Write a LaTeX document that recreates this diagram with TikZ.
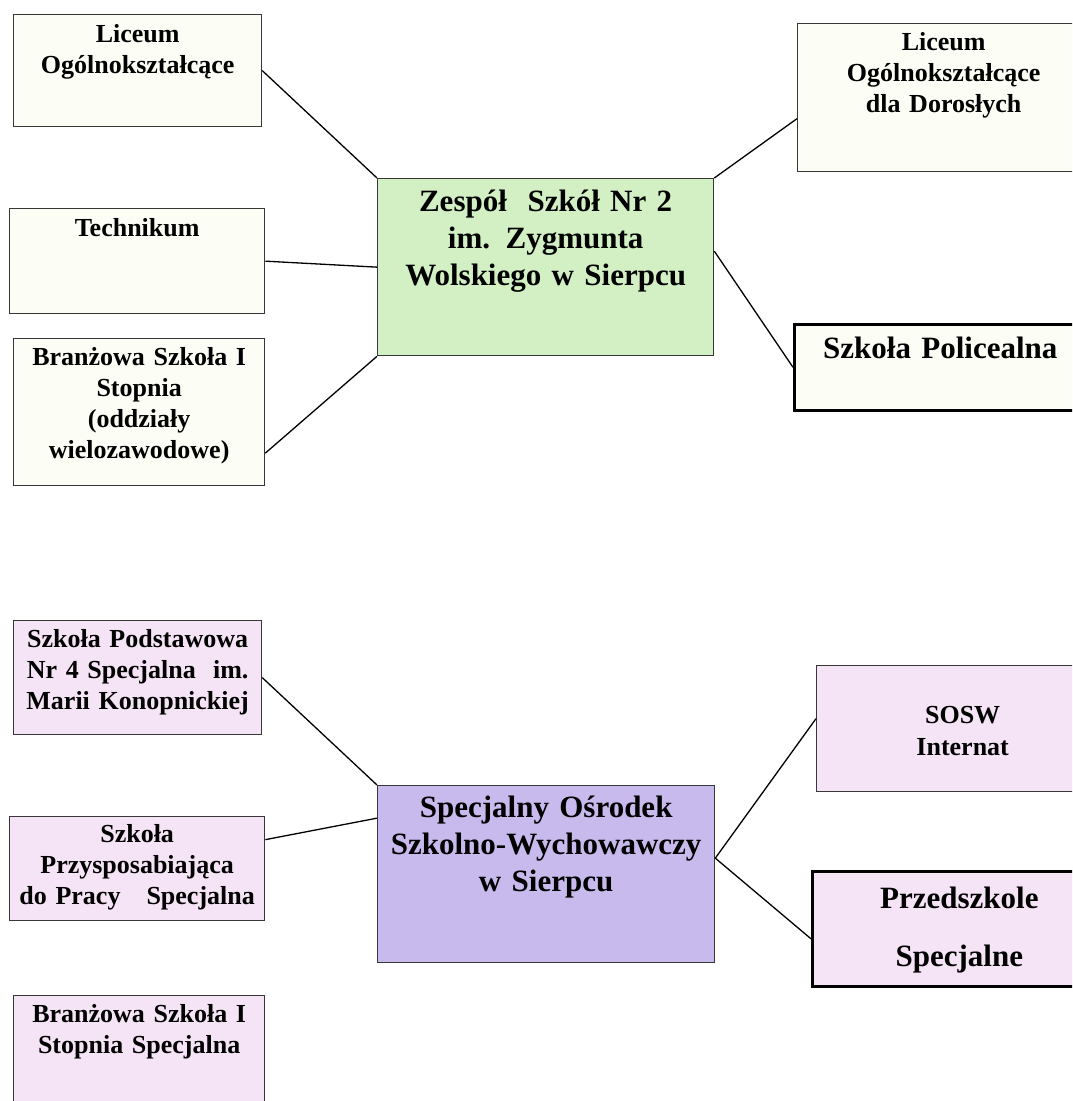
\documentclass[tikz,border=0pt]{standalone}
\usepackage{fontspec}
\setmainfont{Liberation Serif}
\usetikzlibrary{calc}
\definecolor{cream}{RGB}{252,253,244}
\definecolor{leafgreen}{RGB}{210,240,196}
\definecolor{lilac}{RGB}{200,186,236}
\definecolor{blush}{RGB}{245,228,245}
\definecolor{boxline}{RGB}{55,55,55}

\begin{document}
\begin{tikzpicture}[x=1pt,y=-1pt,
		box/.style={draw=boxline,line width=1.3pt,inner sep=0pt,anchor=north west,align=center,
			font=\bfseries\fontsize{26}{31}\selectfont},
		bigbox/.style={box,font=\bfseries\fontsize{31}{37}\selectfont},
		heavy/.style={draw=black,line width=2.6pt}]
			\useasboundingbox (0,0) rectangle (1072,1101);
			\clip (0,0) rectangle (1072,1101);
			% Zespol Szkol Nr 2
			\node[box,fill=cream,text width=248pt,text height=28pt,text depth=84pt] (LO) at (13,14) {Liceum\\Ogólnokształcące};
			\node[box,fill=cream,text width=255pt,text height=28pt,text depth=77pt] (T) at (9,208) {Technikum};
			\node[box,fill=cream,text width=251pt,text height=27pt,text depth=120pt] (BS) at (13,338) {Branżowa Szkoła I\\Stopnia\\(oddziały\\wielozawodowe)};
			\node[bigbox,fill=leafgreen,text width=336pt,text height=33pt,text depth=144pt] (ZS) at (377,178) {Zespół~~Szkół Nr 2\\im. Zygmunta\\Wolskiego w Sierpcu};
			\node[box,fill=cream,text width=292pt,text height=27pt,text depth=121pt] (LOD) at (797,23) {Liceum\\Ogólnokształcące\\dla Dorosłych};
			\node[bigbox,heavy,fill=cream,text width=292pt,text height=34pt,text depth=52pt] (SPol) at (793,323) {Szkoła Policealna};
			% Specjalny Osrodek
			\node[box,fill=blush,text width=248pt,text height=27pt,text depth=87pt] (SP) at (13,620) {Szkoła Podstawowa\\Nr 4 Specjalna~~im.\\Marii Konopnickiej};
			\node[box,fill=blush,text width=255pt,text height=26pt,text depth=78pt] (SPP) at (9,816) {Szkoła\\Przysposabiająca\\do Pracy~~~Specjalna};
			\node[box,fill=blush,text width=251pt,text height=27pt,text depth=113pt] (BSS) at (13,995) {Branżowa Szkoła I\\Stopnia Specjalna};
			\node[bigbox,fill=lilac,text width=337pt,text height=32pt,text depth=145pt] (SOSW) at (377,785) {Specjalny Ośrodek\\Szkolno-Wychowawczy\\w Sierpcu};
			\node[box,fill=blush,text width=292pt,text height=58pt,text depth=68pt,font=\bfseries\fontsize{26}{32}\selectfont] (I) at (816,665) {SOSW\\Internat};
			\node[bigbox,heavy,fill=blush,text width=294pt,text height=37pt,text depth=78pt] (PS) at (811,870) {Przedszkole\\[21pt]Specjalne};
			\draw[line width=1.3pt] (LO.east)--(ZS.north west) (T.east)--(ZS.west) ($(BS.east)+(0,41)$)--(ZS.south west);
			\draw[line width=1.3pt] (ZS.north east)--($(LOD.west)+(0,21)$) ($(ZS.east)+(0,-16)$)--(SPol.west);
			\draw[line width=1.3pt] (SP.east)--(SOSW.north west) ($(SPP.east)+(0,-29)$)--($(SOSW.west)+(0,-56)$);
			\draw[line width=1.3pt] ($(SOSW.east)+(0,-16)$)--($(I.west)+(0,-10)$) ($(SOSW.east)+(0,-16)$)--($(PS.west)+(0,10)$);
		\end{tikzpicture}
\end{document}
